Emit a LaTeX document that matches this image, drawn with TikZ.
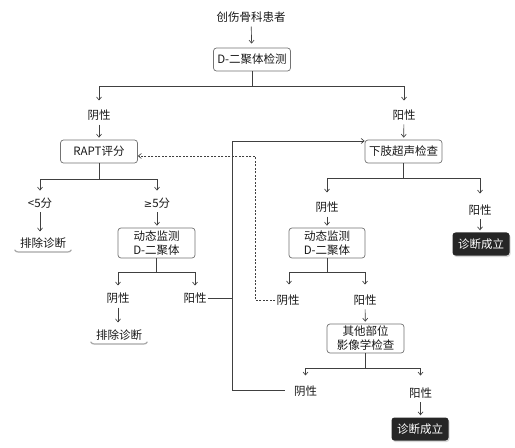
\documentclass[tikz,border=0pt]{standalone}
\usepackage{fontspec}
\setmainfont{Noto Sans CJK SC}
\newfontfamily\symfont{DejaVu Sans}
\usetikzlibrary{arrows.meta,shadows}
\begin{document}
\begin{tikzpicture}[x=1bp,y=-1bp,
  every node/.style={font=\fontsize{11.5bp}{14bp}\selectfont, text=black!90},
  conn/.style={draw=black!75, line width=0.65bp},
  arr/.style={conn, -{Straight Barb[length=3bp,width=5bp]}},
  box/.style={draw=black!55, line width=0.7bp, rounded corners=3bp, minimum width=77bp, minimum height=23bp, inner sep=1bp, align=center, fill=white},
  dark/.style={fill=black!85, text=white, rounded corners=3bp, minimum width=57bp, minimum height=23bp, inner sep=1bp, drop shadow={opacity=0.3,shadow xshift=1bp,shadow yshift=-1.5bp}},
  lab/.style={inner sep=1bp},
  excl/.style={inner xsep=4bp, inner ysep=2bp},
  uline/.style={draw=black!35, line width=1.2bp, line cap=round}
]
\useasboundingbox[fill=white] (0,0) rectangle (515,448);

% nodes
\node[lab] (p) at (251,17) {创伤骨科患者};
\node[box] (d1) at (252,59.5) {D-二聚体检测};
\node[lab] (n1) at (99,115) {阴性};
\node[lab] (p1) at (404,115) {阳性};
\node[box] (rapt) at (99,151.5) {RAPT评分};
\node[box] (us) at (403.5,151.5) {下肢超声检查};
\node[lab] (lt) at (40,203) {<5分};
\node[lab] (ge) at (157,203) {{\symfont\fontsize{10bp}{12bp}\selectfont ≥}5分};
\node[excl] (e1) at (43,243) {排除诊断};
\node[box, minimum height=30bp] (m1) at (156.5,243) {动态监测\\D-二聚体};
\node[lab] (n2) at (118,298) {阴性};
\node[lab] (p2) at (195,298) {阳性};
\node[excl] (e2) at (119,335) {排除诊断};
\node[lab] (n3) at (327,207) {阴性};
\node[lab] (p3) at (480,210) {阳性};
\node[box, minimum width=76bp, minimum height=30bp] (m2) at (327,243) {动态监测\\D-二聚体};
\node[dark] (x1) at (481,244) {诊断成立};
\node[lab] (n4) at (288,300) {阴性};
\node[lab] (p4) at (365,300) {阳性};
\node[box, minimum height=29bp] (o) at (365.5,338.5) {其他部位\\影像学检查};
\node[lab] (n5) at (305.5,391) {阴性};
\node[lab] (p5) at (420.5,393) {阳性};
\node[dark] (x2) at (420,429) {诊断成立};

% underline shadows of exclusion nodes
\foreach \e in {e1,e2}{
  \draw[uline] ([xshift=-1bp,yshift=0.5bp]\e.south west) to[out=-60,in=180] ([xshift=3bp,yshift=-1.5bp]\e.south west)
    -- ([xshift=-3bp,yshift=-1.5bp]\e.south east) to[out=0,in=-120] ([xshift=1bp,yshift=0.5bp]\e.south east);
}

% top
\draw[arr, shorten <=3bp, shorten >=4bp] (p) -- (d1);
\draw[conn] (d1.south) -- ++(0,15) coordinate (j1);
\draw[arr, shorten >=8bp] (j1) -| (n1.north);
\draw[arr, shorten >=8bp] (j1) -| (p1.north);
\draw[arr, shorten <=3bp, shorten >=2bp] (n1) -- (rapt);
\draw[arr, shorten <=3bp, shorten >=2bp] (p1) -- (us);

% left branch
\draw[conn] (rapt.south) -- ++(0,16) coordinate (j2);
\draw[arr, shorten >=6bp] (j2) -| (lt.north);
\draw[arr, shorten >=6bp] (j2) -| (ge.north);
\draw[arr, shorten <=3bp, shorten >=4bp] (lt.south) -- (lt.south |- e1.north);
\draw[arr, shorten <=3bp, shorten >=2bp] (ge.south) -- (ge.south |- m1.north);
\draw[conn] (m1.south) -- ++(0,14) coordinate (j3);
\draw[arr, shorten >=6bp] (j3) -| (n2.north);
\draw[arr, shorten >=6bp] (j3) -| (p2.north);
\draw[arr, shorten <=3bp, shorten >=5bp] (n2.south) -- (n2.south |- e2.north);

% right branch
\draw[conn] (us.south) -- ++(0,15) coordinate (j4);
\draw[arr, shorten >=8bp] (j4) -| (n3.north);
\draw[arr, shorten >=10bp] (j4) -| (p3.north);
\draw[arr, shorten <=3bp, shorten >=2bp] (n3.south) -- (n3.south |- m2.north);
\draw[arr, shorten <=3bp, shorten >=2bp] (p3.south) -- (p3.south |- x1.north);
\draw[conn] (m2.south) -- ++(0,14) coordinate (j5);
\draw[arr, shorten >=9bp] (j5) -| ([xshift=1bp]n4.north);
\draw[arr, shorten >=9bp] (j5) -| (p4.north);
\draw[arr, shorten <=3bp, shorten >=2bp] (p4) -- (o);
\draw[conn] (o.south) -- ++(0,15) coordinate (j6);
\draw[arr, shorten >=9bp] (j6) -| (n5.north);
\draw[arr, shorten >=11bp] (j6) -| (p5.north);
\draw[arr, shorten <=3bp, shorten >=2bp] (p5.south) -- (p5.south |- x2.north);

% return loop
\coordinate (cT) at (232,141);
\coordinate (cB) at (232,390);
\draw[conn] (p2.east) -- (p2.east -| cT);
\draw[arr, shorten <=8bp] (n5.west |- cB) -- (cB) -- (cT) -- (cT -| us.west);

% dashed loop
\coordinate (dk) at (255,156);
\draw[arr, dash pattern=on 2bp off 1.5bp] (n4.west) -| (dk) -- (dk -| rapt.east);
\end{tikzpicture}
\end{document}
